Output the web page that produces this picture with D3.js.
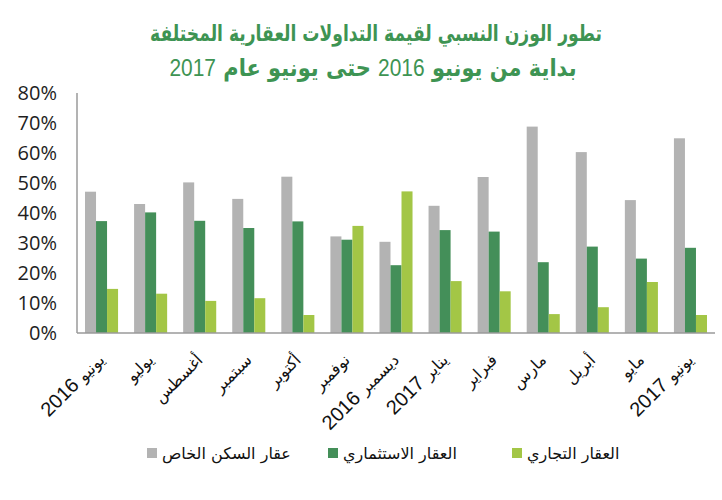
<!doctype html>
<html lang="ar">
<head>
  <meta charset="utf-8">
  <script src="https://cdnjs.cloudflare.com/ajax/libs/d3/7.8.5/d3.min.js"></script>
  <style type="text/css">
    body {
      padding: 0;
      margin: 0;
      background: #fff;
    }
    #canvas {
      display: block;
    }
  </style>
</head>
<body>
  <svg id="canvas" width="722" height="500"></svg>
<script>

// months (category axis), left to right
var months = ['يونيو 2016', 'يوليو', 'أغسطس', 'سبتمبر', 'أكتوبر', 'نوفمبر',
  'ديسمبر 2016', 'يناير 2017', 'فبراير', 'مارس', 'أبريل', 'مايو', 'يونيو 2017'];

var seriesNames = ['عقار السكن الخاص', 'العقار الاستثماري', 'العقار التجاري'];

// percent values
var privateHousing = [47.1, 43.0, 50.2, 44.7, 52.1, 32.2, 30.4, 42.4, 52.0, 68.8, 60.3, 44.3, 64.9];
var investment     = [37.3, 40.2, 37.4, 35.0, 37.2, 31.1, 22.6, 34.3, 33.8, 23.6, 28.8, 24.8, 28.4];
var commercial     = [14.7, 13.1, 10.7, 11.6, 6.0, 35.7, 47.2, 17.3, 13.9, 6.3, 8.6, 17.0, 6.0];

var yTicks = [0, 10, 20, 30, 40, 50, 60, 70, 80];

var colors = ['#b3b3b3', '#448f59', '#a3c646'];
var titleColor = '#3e9453';

var series = [privateHousing, investment, commercial];

var svg = d3.select('#canvas');

var plotLeft = 77;
var plotRight = 715;
var plotTop = 93;
var plotBottom = 333;

var x = d3.scaleBand()
  .domain(months)
  .range([plotLeft, plotRight])
  .paddingInner(16 / 49)
  .paddingOuter(8 / 49);

var xSub = d3.scaleBand()
  .domain(d3.range(series.length))
  .range([0, x.bandwidth()]);

var y = d3.scaleLinear()
  .domain([0, 80])
  .range([plotBottom, plotTop]);

var arabicFont = 'DejaVu Sans, sans-serif';
var latinFont = 'Liberation Sans, DejaVu Sans, sans-serif';

// shrink or grow a text so that it spans the given width
function fitWidth(sel, size, target) {
  sel.style('font-size', size + 'px');
  var w = sel.node().getComputedTextLength();
  sel.style('font-size', (size * target / w) + 'px');
  return sel;
}

// title (DejaVu's Arabic is wide and low, so stretch it a bit upward)
var title1 = svg.append('text')
  .attr('transform', 'translate(376,41) scale(1,1.3)')
  .attr('text-anchor', 'middle')
  .style('font-family', arabicFont)
  .style('font-weight', 'bold')
  .style('fill', titleColor)
  .text('تطور الوزن النسبي لقيمة التداولات العقارية المختلفة');
fitWidth(title1, 20, 452);

var title2 = svg.append('text')
  .attr('transform', 'translate(373,76) scale(1,1.12)')
  .attr('text-anchor', 'middle')
  .attr('direction', 'rtl')
  .style('font-family', arabicFont)
  .style('font-weight', 'bold')
  .style('fill', titleColor);
title2.append('tspan').text('بداية من يونيو  ');
title2.append('tspan').style('font-family', latinFont).style('font-weight', 'normal').text('2016');
title2.append('tspan').text('  حتى يونيو عام  ');
title2.append('tspan').style('font-family', latinFont).style('font-weight', 'normal').text('2017');
fitWidth(title2, 20, 407);

// y axis labels
svg.append('g')
  .selectAll('text')
  .data(yTicks)
  .enter().append('text')
  .attr('x', 57)
  .attr('y', function(d) { return y(d); })
  .attr('dy', '0.35em')
  .attr('text-anchor', 'end')
  .style('font-family', 'Open Sans, sans-serif')
  .style('font-size', '20px')
  .style('fill', '#1e1e1e')
  .text(function(d) { return d + '%'; });

// bars
var groups = svg.append('g')
  .selectAll('g')
  .data(months)
  .enter().append('g')
  .attr('transform', function(d) { return 'translate(' + x(d) + ',0)'; });

groups.selectAll('rect')
  .data(function(d, i) {
    return series.map(function(s, k) { return { k: k, v: s[i] }; });
  })
  .enter().append('rect')
  .attr('x', function(d) { return xSub(d.k); })
  .attr('y', function(d) { return y(d.v); })
  .attr('width', xSub.bandwidth())
  .attr('height', function(d) { return plotBottom - y(d.v); })
  .attr('fill', function(d) { return colors[d.k]; });

// axis lines
svg.append('line')
  .attr('x1', plotLeft).attr('x2', plotLeft)
  .attr('y1', plotTop).attr('y2', plotBottom)
  .style('stroke', '#9a9a9a')
  .style('stroke-width', 1.5);

svg.append('line')
  .attr('x1', plotLeft).attr('x2', plotRight)
  .attr('y1', plotBottom).attr('y2', plotBottom)
  .style('stroke', '#9a9a9a')
  .style('stroke-width', 1.5);

// month labels, rotated; year (if any) drawn to the left of the name
var labels = svg.append('g')
  .selectAll('text')
  .data(months)
  .enter().append('text')
  .attr('transform', function(d) {
    return 'translate(' + (x(d) + x.bandwidth() / 2 + 4) + ',361) rotate(-45)';
  })
  .attr('text-anchor', 'end')
  .style('fill', '#111');

labels.each(function(d) {
  var parts = d.split(' ');
  var t = d3.select(this);
  if (parts.length > 1) {
    t.append('tspan')
      .style('font-family', latinFont)
      .style('font-size', '20px')
      .text(parts[1] + ' ');
  }
  t.append('tspan')
    .style('font-family', arabicFont)
    .style('font-size', '16px')
    .text(parts[0]);
});

// legend
var legendX = [147, 328, 512];
var legend = svg.append('g')
  .selectAll('g')
  .data(seriesNames)
  .enter().append('g')
  .attr('transform', function(d, i) { return 'translate(' + legendX[i] + ',453)'; });

legend.append('rect')
  .attr('x', 0)
  .attr('y', -5)
  .attr('width', 10)
  .attr('height', 10)
  .attr('fill', function(d, i) { return colors[i]; });

legend.append('text')
  .attr('x', 15)
  .attr('dy', '0.35em')
  .style('font-family', arabicFont)
  .style('font-size', '16px')
  .style('fill', '#111')
  .text(function(d) { return d; });

</script>
</body>
</html>
